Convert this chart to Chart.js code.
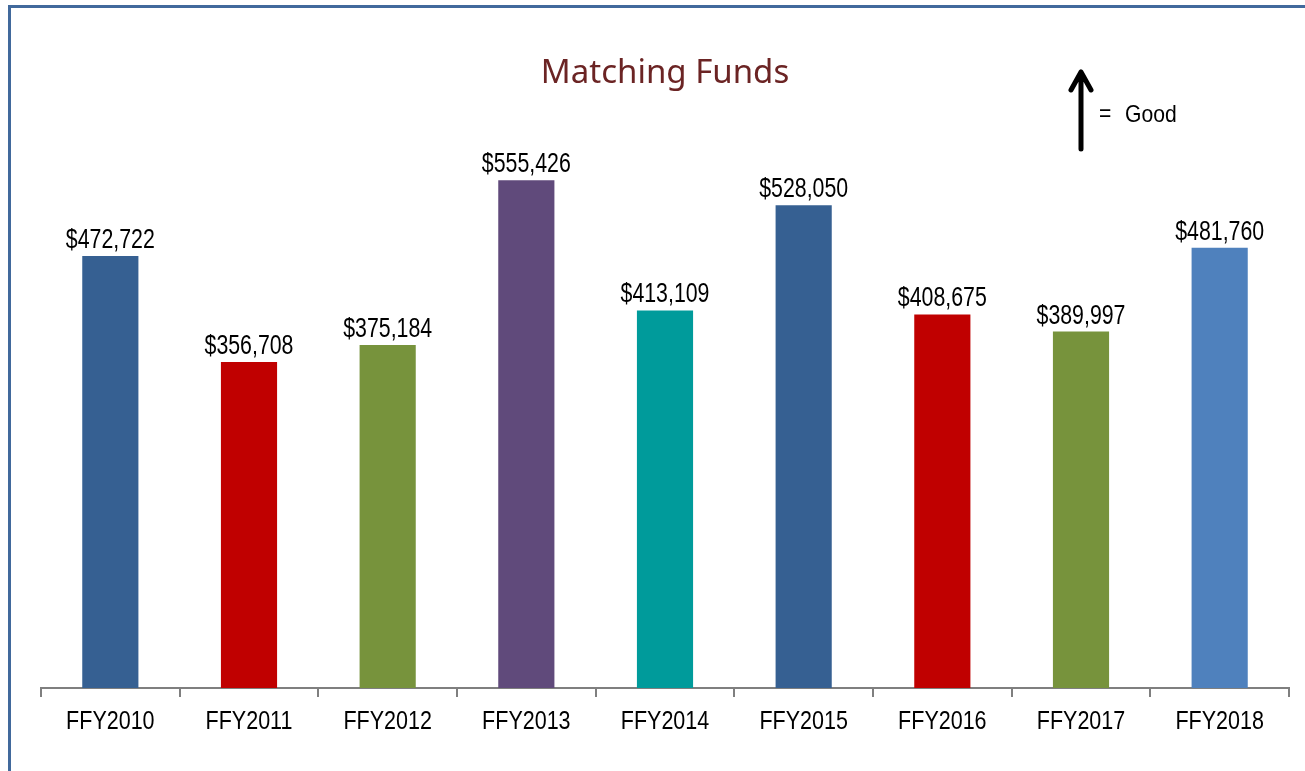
<!DOCTYPE html>
<html lang="en">
<head>
  <meta charset="UTF-8">
  <title>Matching Funds</title>
  <script src="https://cdn.jsdelivr.net/npm/chart.js"></script>
  <style>
    html, body {
      margin: 0;
      padding: 0;
      background: #fff;
      overflow: hidden;
    }
    .frame {
      position: absolute;
      left: 8px;
      top: 5px;
      width: 1400px;
      height: 900px;
      border: 3px solid #41699c;
      box-sizing: border-box;
    }
    .chart-container {
      position: absolute;
      left: 0;
      top: 0;
      width: 1305px;
      height: 771px;
    }
  </style>
</head>
<body>
  <div class="frame"></div>
  <div class="chart-container">
    <canvas id="fundsChart"></canvas>
  </div>

  <script>
    // Fiscal years and matching fund amounts
    const years = ["FFY2010", "FFY2011", "FFY2012", "FFY2013", "FFY2014", "FFY2015", "FFY2016", "FFY2017", "FFY2018"];
    const funds = [472722, 356708, 375184, 555426, 413109, 528050, 408675, 389997, 481760];
    const barColors = ['#366092', '#c00000', '#77933c', '#604a7b', '#009b9b', '#366092', '#c00000', '#77933c', '#4f81bd'];

    const sans = '"Liberation Sans", Arial, sans-serif';

    // draw text squeezed horizontally (the original uses a narrow face)
    function narrowText(ctx, text, x, y, squeeze) {
      ctx.save();
      ctx.translate(x, y);
      ctx.scale(squeeze, 1);
      ctx.fillText(text, 0, 0);
      ctx.restore();
    }

    // dollar labels, category labels and the "up = good" note
    const extras = {
      id: 'extras',
      afterDraw(chart) {
        const ctx = chart.ctx;
        const meta = chart.getDatasetMeta(0);
        const xScale = chart.scales.x;
        ctx.save();
        ctx.fillStyle = '#000';
        ctx.textAlign = 'center';
        ctx.textBaseline = 'alphabetic';

        ctx.font = '27px ' + sans;
        meta.data.forEach((bar, i) => {
          narrowText(ctx, '$' + funds[i].toLocaleString('en-US'), bar.x, bar.y - 8, 0.79);
        });

        ctx.font = '25px ' + sans;
        years.forEach((label, i) => {
          narrowText(ctx, label, xScale.getPixelForTick(i), xScale.bottom + 32, 0.86);
        });

        // arrow
        ctx.strokeStyle = '#000';
        ctx.lineWidth = 5;
        ctx.lineCap = 'round';
        ctx.lineJoin = 'round';
        ctx.beginPath();
        ctx.moveTo(1081, 149);
        ctx.lineTo(1081, 72);
        ctx.moveTo(1071, 90);
        ctx.lineTo(1081, 72);
        ctx.lineTo(1091, 90);
        ctx.stroke();

        ctx.font = '24px ' + sans;
        ctx.textAlign = 'left';
        narrowText(ctx, '=', 1099, 121, 0.88);
        narrowText(ctx, 'Good', 1125, 122, 0.88);
        ctx.restore();
      }
    };

    const ctx = document.getElementById('fundsChart').getContext('2d');
    const fundsChart = new Chart(ctx, {
      type: 'bar',
      data: {
        labels: years,
        datasets: [{
          data: funds,
          backgroundColor: barColors,
          categoryPercentage: 1.0,
          barPercentage: 0.405
        }]
      },
      options: {
        responsive: true,
        maintainAspectRatio: false,
        animation: false,
        layout: {
          padding: { left: 41, right: 16, top: 0, bottom: 74 }
        },
        scales: {
          x: {
            offset: true,
            grid: {
              display: true,
              drawOnChartArea: false,
              drawTicks: true,
              tickLength: 9,
              color: '#7f7f7f',
              lineWidth: 2,
              offset: true
            },
            border: { display: true, color: '#7f7f7f', width: 2 },
            ticks: { display: false }
          },
          y: {
            display: false,
            min: 0,
            max: 600000
          }
        },
        plugins: {
          legend: { display: false },
          tooltip: { enabled: false },
          title: {
            display: true,
            text: 'Matching Funds',
            color: '#6b2424',
            font: { family: '"Noto Sans", sans-serif', size: 33, weight: 'normal' },
            padding: { top: 54, bottom: 46 }
          }
        }
      },
      plugins: [extras]
    });
  </script>
</body>
</html>
